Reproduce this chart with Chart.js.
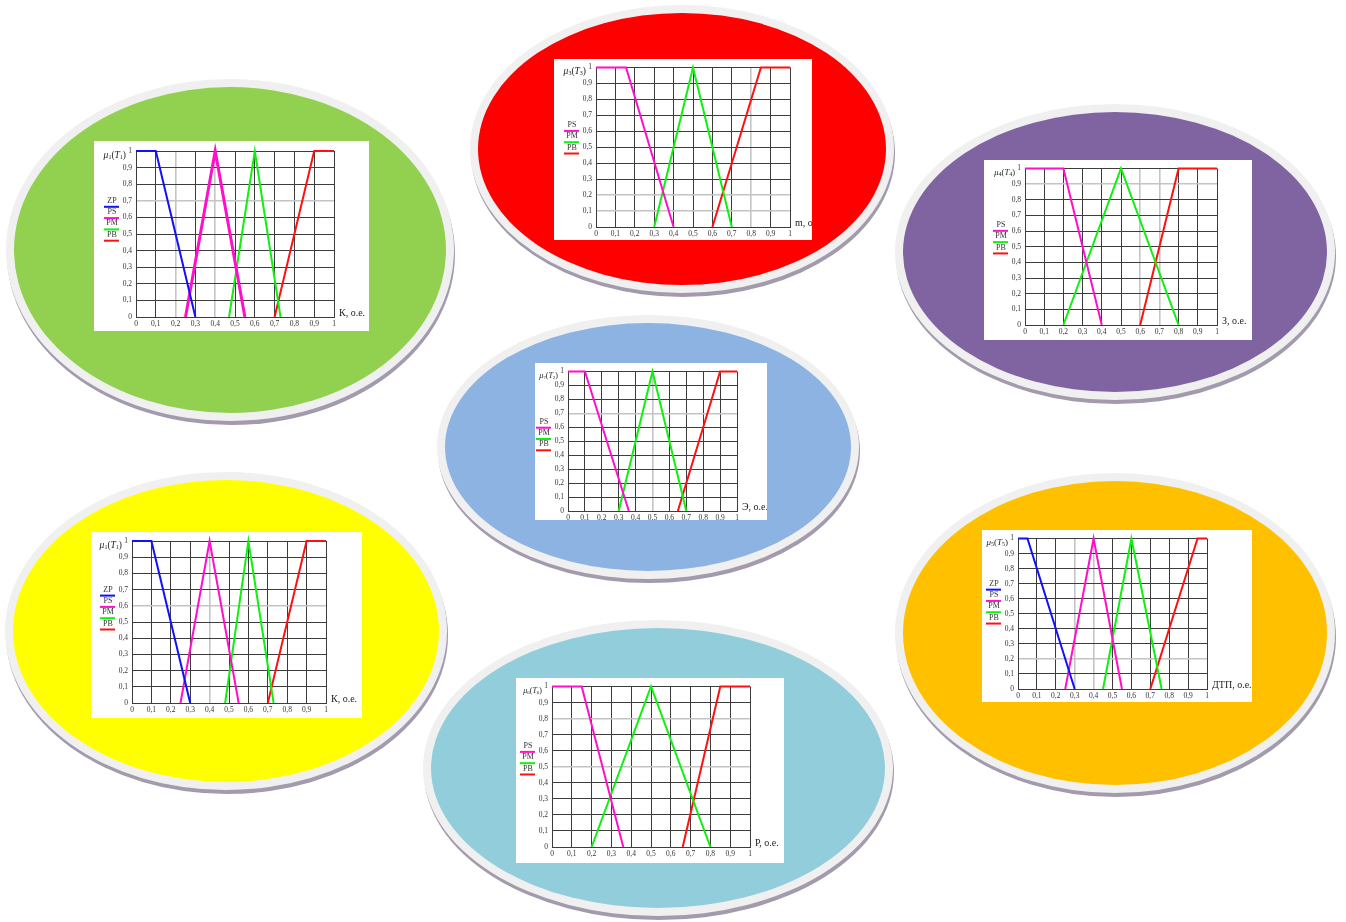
<!DOCTYPE html>
<html>
<head>
<meta charset="utf-8">
<script src="https://cdn.jsdelivr.net/npm/chart.js@4.4.1/dist/chart.umd.min.js"></script>
<style>
  html, body { margin: 0; padding: 0; background: #fff; }
  body { width: 1346px; height: 922px; position: relative; overflow: hidden; }
  .rim  { position: absolute; border-radius: 50%; background: #f0f0f0; box-shadow: 1px 4px 0 #a39bad; }
  .disc { position: absolute; border-radius: 50%; }
  .card { position: absolute; background: #fff; overflow: hidden; }
  .card canvas { display: block; }
</style>
</head>
<body>
<script>
// Axis ticks shared by every membership plot
const TICK_VALUES = [0, 0.1, 0.2, 0.3, 0.4, 0.5, 0.6, 0.7, 0.8, 0.9, 1];
const TICK_LABELS = ['0', '0,1', '0,2', '0,3', '0,4', '0,5', '0,6', '0,7', '0,8', '0,9', '1'];
const TERMS_4 = ['ZP', 'PS', 'PM', 'PB'];
const TERMS_3 = ['PS', 'PM', 'PB'];

// Membership functions, break points as [x, mu]
// K (green)
const K1_ZP = [[0, 1], [0.1, 1], [0.3, 0]];
const K1_PS = [[0.25, 0], [0.4, 1], [0.55, 0]];
const K1_PM = [[0.47, 0], [0.6, 1], [0.73, 0]];
const K1_PB = [[0.7, 0], [0.9, 1], [1, 1]];
// m (red)
const M_PS = [[0, 1], [0.155, 1], [0.4, 0]];
const M_PM = [[0.3, 0], [0.5, 1], [0.7, 0]];
const M_PB = [[0.6, 0], [0.85, 1], [1, 1]];
// З (purple)
const Z_PS = [[0, 1], [0.2, 1], [0.4, 0]];
const Z_PM = [[0.2, 0], [0.5, 1], [0.8, 0]];
const Z_PB = [[0.6, 0], [0.8, 1], [1, 1]];
// Э (blue)
const E_PS = [[0, 1], [0.1, 1], [0.36, 0]];
const E_PM = [[0.3, 0], [0.5, 1], [0.7, 0]];
const E_PB = [[0.65, 0], [0.9, 1], [1, 1]];
// K (yellow)
const K2_ZP = [[0, 1], [0.1, 1], [0.3, 0]];
const K2_PS = [[0.25, 0], [0.4, 1], [0.55, 0]];
const K2_PM = [[0.48, 0], [0.6, 1], [0.73, 0]];
const K2_PB = [[0.7, 0], [0.9, 1], [1, 1]];
// P (light blue)
const P_PS = [[0, 1], [0.15, 1], [0.36, 0]];
const P_PM = [[0.2, 0], [0.5, 1], [0.8, 0]];
const P_PB = [[0.66, 0], [0.85, 1], [1, 1]];
// ДТП (orange)
const D_ZP = [[0, 1], [0.05, 1], [0.3, 0]];
const D_PS = [[0.25, 0], [0.4, 1], [0.55, 0]];
const D_PM = [[0.45, 0], [0.6, 1], [0.76, 0]];
const D_PB = [[0.7, 0], [0.95, 1], [1, 1]];

const TERM_COLOURS = { ZP: '#1010ff', PS: '#ff10c8', PM: '#10f010', PB: '#ff1010' };
const SERIF = '"Liberation Serif", "DejaVu Serif", serif';
const GRID = '#3c3c3c';
const GRID_FAINT = '#c4c4c4';
const Y_AXIS_W = 20;

// Ovals: centre, radii and fill colour
const OVALS = [
  { cx: 230, cy: 250, rx: 216, ry: 163, fill: '#92d050' },
  { cx: 682, cy: 149, rx: 204, ry: 136, fill: '#ff0000' },
  { cx: 1115, cy: 252, rx: 212, ry: 140, fill: '#8064a2' },
  { cx: 648, cy: 447, rx: 203, ry: 124, fill: '#8db3e2' },
  { cx: 226, cy: 631, rx: 213, ry: 151, fill: '#ffff00' },
  { cx: 658, cy: 768, rx: 227, ry: 140, fill: '#92cddc' },
  { cx: 1115, cy: 633, rx: 212, ry: 152, fill: '#ffc000' }
];
const RIM = 8;

OVALS.forEach(o => {
  const rim = document.createElement('div');
  rim.className = 'rim';
  Object.assign(rim.style, {
    left: (o.cx - o.rx - RIM) + 'px', top: (o.cy - o.ry - RIM) + 'px',
    width: (2 * (o.rx + RIM)) + 'px', height: (2 * (o.ry + RIM)) + 'px'
  });
  document.body.appendChild(rim);
  const disc = document.createElement('div');
  disc.className = 'disc';
  Object.assign(disc.style, {
    left: (o.cx - o.rx) + 'px', top: (o.cy - o.ry) + 'px',
    width: (2 * o.rx) + 'px', height: (2 * o.ry) + 'px', background: o.fill
  });
  document.body.appendChild(disc);
});

// Plot cards: white box, plot-area insets, terms, axis names, lighter grid lines
const PLOTS = [
  { box: [94, 141, 275, 190], inset: [42, 35, 10, 14], terms: TERMS_4, sets: [K1_ZP, K1_PS, K1_PM, K1_PB],
    yName: ['μ', '1', 'T', '1'], nameSize: 9.5, xName: 'К, о.е.', legendTop: 0.70, widths: [2, 3, 2, 2],
    faintX: [2, 4], faintY: [7] },
  { box: [554, 59, 258, 181], inset: [42, 22, 8, 13], terms: TERMS_3, sets: [M_PS, M_PM, M_PB],
    yName: ['μ', '3', 'T', '3'], nameSize: 9.5, xName: 'm, о.е.', legendTop: 0.64,
    faintX: [8], faintY: [1, 2] },
  { box: [984, 160, 268, 180], inset: [41, 35, 7, 15], terms: TERMS_3, sets: [Z_PS, Z_PM, Z_PB],
    yName: ['μ', '4', 'T', '4'], nameSize: 8.5, xName: 'З, о.е.', legendTop: 0.64,
    faintX: [6, 7], faintY: [9] },
  { box: [535, 363, 232, 157], inset: [33, 30, 8, 9], terms: TERMS_3, sets: [E_PS, E_PM, E_PB],
    yName: ['μ', '7', 'T', '2'], nameSize: 8, xName: 'Э, о.е.', legendTop: 0.64,
    faintX: [5], faintY: [7] },
  { box: [91, 532, 271, 186], inset: [41, 36, 9, 15], terms: TERMS_4, sets: [K2_ZP, K2_PS, K2_PM, K2_PB],
    yName: ['μ', '1', 'T', '1'], nameSize: 9.5, xName: 'К, о.е.', legendTop: 0.70,
    faintX: [4], faintY: [6] },
  { box: [516, 678, 268, 185], inset: [36, 34, 6, 16], terms: TERMS_3, sets: [P_PS, P_PM, P_PB],
    yName: ['μ', '6', 'T', '6'], nameSize: 8, xName: 'Р, о.е.', legendTop: 0.63,
    faintX: [], faintY: [5, 8] },
  { box: [982, 530, 270, 172], inset: [36, 45, 3, 13], terms: TERMS_4, sets: [D_ZP, D_PS, D_PM, D_PB],
    yName: ['μ', '5', 'T', '5'], nameSize: 9, xName: 'ДТП, о.е.', legendTop: 0.70,
    faintX: [3, 4], faintY: [2] }
];

// Axis names and the stacked term legend drawn around the plot area
const decor = {
  id: 'decor',
  afterDraw(chart, args, opts) {
    const { ctx, chartArea: a, scales } = chart;
    ctx.save();
    ctx.fillStyle = '#222';
    ctx.textBaseline = 'middle';
    ctx.textAlign = 'left';
    // y name: μn(Tn), with small indices
    const yMid = a.top + 4;
    const fs = opts.nameSize;
    const sub = Math.round(fs * 0.68);
    const [mu, i1, t, i2] = opts.yName;
    const parts = [
      [mu, 'italic ' + fs + 'px ' + SERIF, 0], [i1, sub + 'px ' + SERIF, 2],
      ['(', fs + 'px ' + SERIF, 0], [t, 'italic ' + fs + 'px ' + SERIF, 0],
      [i2, sub + 'px ' + SERIF, 2], [')', fs + 'px ' + SERIF, 0]
    ];
    let total = 0;
    parts.forEach(p => { ctx.font = p[1]; total += ctx.measureText(p[0]).width; });
    let x = Math.max(2, a.left - 10 - total);
    parts.forEach(p => { ctx.font = p[1]; ctx.fillText(p[0], x, yMid + p[2]); x += ctx.measureText(p[0]).width; });

    // x name, right of the plot on the zero line
    ctx.font = '10px ' + SERIF;
    ctx.fillText(opts.xName, a.right + 5, a.bottom - 4);

    // term legend: label with its colour bar underneath
    const y0 = scales.y.getPixelForValue(opts.legendTop);
    ctx.textAlign = 'center';
    ctx.font = '8px ' + SERIF;
    chart.data.datasets.forEach((ds, i) => {
      const ty = y0 + i * 11.3;
      ctx.fillStyle = '#333';
      ctx.fillText(ds.label, a.left - 24, ty);
      ctx.strokeStyle = ds.borderColor;
      ctx.lineWidth = 2;
      ctx.beginPath();
      ctx.moveTo(a.left - 32, ty + 6);
      ctx.lineTo(a.left - 17, ty + 6);
      ctx.stroke();
    });
    ctx.restore();
  }
};

function axis(fitFn, faint) {
  return {
    type: 'linear', min: 0, max: 1,
    afterBuildTicks: s => { s.ticks = TICK_VALUES.map(v => ({ value: v })); },
    afterFit: fitFn,
    grid: {
      drawTicks: false,
      color: c => (faint.includes(c.index) ? GRID_FAINT : GRID),
      lineWidth: c => (faint.includes(c.index) ? 1.6 : 1)
    },
    border: { color: GRID, width: 1 },
    ticks: {
      autoSkip: false, maxRotation: 0, padding: 3, color: '#333',
      font: { family: SERIF, size: 7.5 },
      callback: (v, i) => TICK_LABELS[i]
    }
  };
}

PLOTS.forEach(p => {
  const [bl, bt, bw, bh] = p.box;
  const [il, ir, it, ib] = p.inset;
  const card = document.createElement('div');
  card.className = 'card';
  Object.assign(card.style, { left: bl + 'px', top: bt + 'px', width: bw + 'px', height: bh + 'px' });
  const cv = document.createElement('canvas');
  cv.width = bw; cv.height = bh;
  cv.style.width = bw + 'px'; cv.style.height = bh + 'px';
  card.appendChild(cv);
  document.body.appendChild(card);

  const datasets = p.sets.map((pts, i) => ({
    label: p.terms[i],
    data: pts.map(([x, y]) => ({ x, y })),
    borderColor: TERM_COLOURS[p.terms[i]],
    borderWidth: p.widths ? p.widths[i] : 2,
    pointRadius: 0, tension: 0, fill: false,
    clip: false
  }));

  const xAxis = axis(s => { s.height = ib; }, p.faintX);
  const yAxis = axis(s => { s.width = Y_AXIS_W; }, p.faintY);
  yAxis.ticks.padding = 4;

  new Chart(cv, {
    type: 'line',
    data: { datasets },
    options: {
      responsive: false, maintainAspectRatio: false, animation: false,
      layout: { padding: { left: il - Y_AXIS_W, right: ir, top: it, bottom: 0 } },
      plugins: {
        legend: { display: false }, tooltip: { enabled: false },
        decor: { yName: p.yName, nameSize: p.nameSize, xName: p.xName, legendTop: p.legendTop }
      },
      scales: { x: xAxis, y: yAxis }
    },
    plugins: [decor]
  });
});
</script>
</body>
</html>
